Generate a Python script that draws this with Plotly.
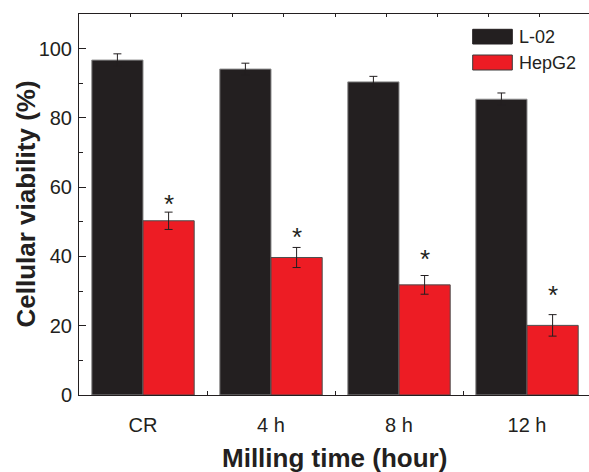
import plotly.graph_objects as go

categories = ["CR", "4 h", "8 h", "12 h"]
l02_values = [96.7, 94.1, 90.4, 85.4]
l02_errors = [1.8, 1.7, 1.6, 1.8]
hepg2_values = [50.3, 39.7, 31.8, 20.1]
hepg2_errors = [2.5, 2.9, 2.7, 3.1]
sig_marks = ["*", "*", "*", "*"]
sig_y = [55.8, 46.2, 39.9, 29.5]
y_ticks = [0, 20, 40, 60, 80, 100]
series_names = ["L-02", "HepG2"]

FONT = "Liberation Sans, Arial, Helvetica, sans-serif"
INK = "#231f20"
BLACK_BAR = "#231f20"
RED_BAR = "#ed1c24"

fig = go.Figure()
fig.add_trace(go.Bar(
    x=categories, y=l02_values, name=series_names[0],
    marker=dict(color=BLACK_BAR, line=dict(color="#8c8c8c", width=1)),
    error_y=dict(type="data", array=l02_errors, color=INK, thickness=1, width=4),
    showlegend=False,
))
fig.add_trace(go.Bar(
    x=categories, y=hepg2_values, name=series_names[1],
    marker=dict(color=RED_BAR, line=dict(color="#4d4d4d", width=1)),
    error_y=dict(type="data", array=hepg2_errors, color=INK, thickness=1, width=4),
    showlegend=False,
))

# significance asterisks over HepG2 bars
for i, (m, yv) in enumerate(zip(sig_marks, sig_y)):
    fig.add_annotation(x=i + 0.2, y=yv, xref="x", yref="y", text=m, showarrow=False,
                       font=dict(family=FONT, size=26, color=INK), yanchor="middle",
                       xanchor="center", yshift=-2)

# hidden overlay axis for the top frame ticks
fig.add_trace(go.Scatter(x=[0], y=[0], xaxis="x2", mode="markers",
                         marker=dict(opacity=0), hoverinfo="skip", showlegend=False))

L, R, T, B = 79, 0, 14, 77
W, H = 589, 472
pw, ph = W - L - R, H - T - B
xmax = -0.5 + pw / 128.0

def px_x(p):
    return (p - L) / pw

def px_y(p):
    return (H - B - p) / ph

# custom legend
legend_items = [(series_names[0], BLACK_BAR, "#231f20", 29.3, 44.0),
                (series_names[1], RED_BAR, "#3a3a3a", 55.0, 70.0)]
for name, fc, lc, y0, y1 in legend_items:
    fig.add_shape(type="rect", xref="paper", yref="paper",
                  x0=px_x(472.7), x1=px_x(512.3), y0=px_y(y1), y1=px_y(y0),
                  fillcolor=fc, line=dict(color=lc, width=1))
    fig.add_annotation(xref="paper", yref="paper", x=px_x(517), y=px_y((y0 + y1) / 2),
                       text=name, showarrow=False, xanchor="left", yanchor="middle",
                       font=dict(family=FONT, size=18, color=INK))

# axis titles placed as annotations so the plot area keeps its size
fig.add_annotation(xref="paper", yref="paper", x=0.5, y=px_y(458), text="<b>Milling time (hour)</b>",
                   showarrow=False, xanchor="center", yanchor="middle",
                   font=dict(family=FONT, size=26, color=INK))
fig.add_annotation(xref="paper", yref="paper", x=px_x(25), y=0.5, text="<b>Cellular viability (%)</b>",
                   showarrow=False, xanchor="center", yanchor="middle", textangle=-90,
                   font=dict(family=FONT, size=26, color=INK))

fig.update_layout(
    width=W, height=H,
    margin=dict(l=L, r=R, t=T, b=B, pad=0, autoexpand=False),
    paper_bgcolor="white", plot_bgcolor="white",
    barmode="group", bargap=0.2, bargroupgap=0,
    font=dict(family=FONT, size=20, color=INK),
    xaxis=dict(
        type="category", range=[-0.5, xmax], automargin=False,
        showline=True, linecolor=INK, linewidth=1,
        ticks="inside", tickson="boundaries", ticklen=4, tickcolor=INK, tickwidth=1,
        tickfont=dict(family=FONT, size=20, color=INK),
        ticklabelstandoff=12,
        showgrid=False, zeroline=False, fixedrange=True,
    ),
    xaxis2=dict(
        overlaying="x", side="top", range=[-0.5, xmax], automargin=False,
        tickvals=[-0.1 + 0.4 * k for k in range(10)],
        showticklabels=False, ticks="inside", ticklen=3, tickcolor=INK, tickwidth=1,
        showline=True, linecolor=INK, linewidth=1, showgrid=False, zeroline=False,
    ),
    yaxis=dict(
        range=[0, 110], tickvals=y_ticks, automargin=False,
        showline=True, linecolor=INK, linewidth=1,
        ticks="inside", ticklen=7, tickcolor=INK, tickwidth=1,
        minor=dict(dtick=10, ticks="inside", ticklen=4, tickcolor=INK, tickwidth=1),
        tickfont=dict(family=FONT, size=20, color=INK),
        ticklabelstandoff=2,
        showgrid=False, zeroline=False,
    ),
)

fig.write_html(
    "out.html",
    config={"displayModeBar": False},
    post_script="document.body.style.margin='0';document.body.style.overflow='hidden';",
)
